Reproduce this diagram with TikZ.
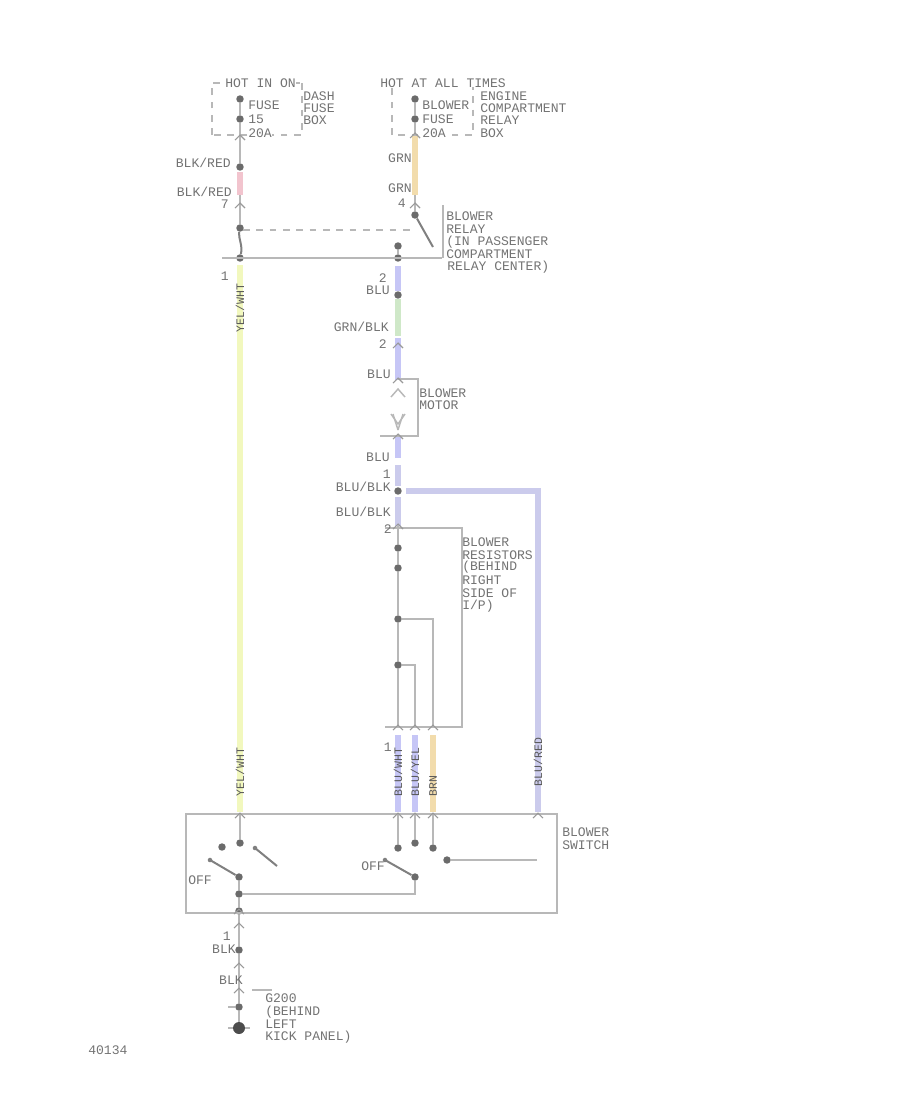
\documentclass[tikz,border=0pt]{standalone}
\usepackage{fontspec}
\setmonofont{Liberation Mono}
\definecolor{ink}{gray}{0.45}
\definecolor{ln}{gray}{0.72}
\definecolor{wblue}{HTML}{C6C6F6}
\definecolor{wblue2}{HTML}{CBCBEC}
\definecolor{wyel}{HTML}{F2F8BE}
\definecolor{worange}{HTML}{F2DCAC}
\definecolor{wgreen}{HTML}{CFE8C8}
\definecolor{wred}{HTML}{F2C4CE}
\tikzset{
  lbl/.style={font=\ttfamily\fontsize{9.8}{12}\selectfont,text=ink,inner sep=0pt,anchor=west,align=left},
  lblr/.style={lbl,anchor=east},
  vlbl/.style={font=\ttfamily\fontsize{8.6}{9}\selectfont,text=black!65,inner sep=0pt,rotate=90},
  dot/.style={circle,fill=black!58,draw=none,inner sep=0pt,minimum size=5.6pt},
  bigdot/.style={circle,fill=black!70,inner sep=0pt,minimum size=9pt},
  term/.style={circle,fill=ln,inner sep=0pt,minimum size=3.4pt},
  wire/.style={draw=ln,line width=1.1pt},
  box/.style={draw=ln,line width=1.7pt},
  dbox/.style={draw=ln,line width=.9pt,dashed,dash pattern=on 5pt off 5pt},
  cw/.style={line width=4.2pt,line cap=butt},
  blade/.style={draw=black!50,line width=1.5pt}
}
\begin{document}
\begin{tikzpicture}[x=0.75pt,y=-0.75pt]
\useasboundingbox (0,0) rectangle (900,1100);
% ---- coordinates and points
\foreach \n/\x/\y in {
 la/240/99,lb/240/119,lc/240/167,ld/240/228,le/240/258,
 ra/415/99,rb/415/119,rc/415/215,
 pa/398/246,pb/398/258,pc/398/295,pd/398/491,
 ra1/398/548,ra2/398/568,ra3/398/619,ra4/398/665,
 sa/240/843,sb/222/847,sc/239/877,sd/239/894,se/239/911,
 sf/398/848,sg/415/843,sh/433/848,si/415/877,sj/447/860,
 ga/239/950,gb/239/1007}
 {\node[dot] (\n) at (\x,\y) {};}
\node[bigdot] (gnd) at (239,1028) {};
% ---- free ends
\foreach \n/\x/\y in {
 fa/212/83,fb/302/83,fc/302/135,fd/212/135,
 ea/392/83,eb/473/83,ec/473/135,ed/392/135,
 busl/222/258,busr/442/258,
 lt1/240/137,lt2/240/205,rt1/415/135,rt2/415/195,lred1/240/172,lred2/240/195,
 lm/240/146,rm/415/205,
 y1/240/265,y2/240/812,
 ba1/398/266,ba2/398/291,gr1/398/299,gr2/398/336,ba3/398/338,ba4/398/380,
 bb1/398/436,bb2/398/458,bb3/398/465,bb4/398/486,bb5/398/497,bb6/398/526,
 h1/538/491,h2/538/812,h0/406/491,
 mt1/418/379,mt2/418/436,mt3/380/436,mt0/398/379,
 rs1/385/528,rs2/462/528,rs3/462/727,rs4/385/727,
 r3a/433/619,r3b/433/727,r4a/415/665,r4b/415/727,
 w1a/398/735,w1b/398/812,w2a/415/735,w2b/415/812,w3a/433/735,w3b/433/812,
 sw1/186/814,sw2/557/913,
 t1/240/815,t2/398/815,t3/415/815,t4/433/815,t5/538/815,
 bl1a/255/848,bl1b/277/866,bl2a/210/860,bl3a/385/860,arrowend/537/860,
 g1/239/965,g2/239/990,
 sv1/443/205,sv2/443/258,dash1/243/230,dash2/415/230,bladeend/433/247,
 g3/228/1007,g4/228/1028,g5/250/1028,g6/252/990,g7/272/990}
 {\coordinate (\n) at (\x,\y);}
% ---- coloured wires
\draw[wred,cw] (lred1) -- (lred2);
\draw[worange,cw] (rt1) -- (rt2);
\draw[wyel,cw] (y1) -- (y2);
\draw[wblue,cw] (ba1) -- (ba2);
\draw[wgreen,cw] (gr1) -- (gr2);
\draw[wblue,cw] (ba3) -- (ba4);
\draw[wblue,cw] (bb1) -- (bb2);
\draw[wblue2,cw] (bb3) -- (bb4);
\draw[wblue2,cw] (bb5) -- (bb6);
\draw[wblue2,cw,line join=miter] (h0) -- (h1) -- (h2);
\draw[wblue,cw] (w1a) -- (w1b);
\draw[wblue,cw] (w2a) -- (w2b);
\draw[worange,cw] (w3a) -- (w3b);
% ---- fuse boxes
\draw[dbox] (fd) -- (fa) -- (fb);
\draw[dbox] (fb) -- (fc) -- (fd);
\draw[dbox] (ed) -- (ea);
\draw[dbox] (eb) -- (ec) -- (ed);
% ---- black wires
\draw[wire] (la) -- (lb) -- (lt1) -- (lm);
\draw[wire] (ra) -- (rb) -- (rt1);
\draw[wire] (lm) -- (lc);
\draw[wire] (lred2) -- (lt2) -- (ld);
\draw[blade] (ld) .. controls (238,238) and (243,245) .. (le);
\draw[wire] (rt2) -- (rm) -- (rc);
\draw[blade] (rc) -- (bladeend);
\draw[dbox] (dash1) -- (dash2);
\draw[wire] (pa) -- (pb);
\draw[box] (busl) -- (busr);
\draw[wire] (sv1) -- (sv2);
% motor
\draw[wire] (mt0) -- (mt1) -- (mt2) -- (mt3);
\draw[wire] (391,397) -- (398,389) -- (405,397);
\draw[wire] (391,414) -- (398,424) -- (405,414);
\draw[wire] (393,414) -- (398,430);
\draw[wire] (403,414) -- (398,430);
% resistors
\draw[wire] (rs1) -- (rs2) -- (rs3) -- (rs4);
\draw[wire] (bb6) -- (ra1) -- (ra2) -- (ra3) -- (ra4) -- (398,727);
\draw[wire] (ra3) -- (r3a) -- (r3b);
\draw[wire] (ra4) -- (r4a) -- (r4b);
% ---- switch box
\draw[box] (sw1) rectangle (sw2);
\draw[wire] (t1) -- (sa);
\draw[wire] (t2) -- (sf);
\draw[wire] (t3) -- (sg);
\draw[wire] (t4) -- (sh);
\draw[blade] (bl1a) -- (bl1b);
\draw[blade] (bl2a) -- (sc);
\draw[blade] (bl3a) -- (si);
\draw[wire] (sc) -- (sd) -- (se) -- (ga);
\draw[wire] (sd) -- (415,894) -- (si);
\draw[wire] (sj) -- (arrowend);
\draw[wire] (ga) -- (g1) -- (g2) -- (gb) -- (gnd);
\draw[wire] (g3) -- (gb);
\draw[wire] (g4) -- (gnd);
\draw[wire] (gnd) -- (g5);
\draw[wire] (g6) -- (g7);
\foreach \n in {bl1a,bl2a,bl3a} \node[term,fill=black!50] at (\n) {};
% small connector marks
\foreach \x/\y in {240/137,240/205,415/135,415/205,398/345,398/380,398/436,398/526,398/727,415/727,433/727,240/815,398/815,415/815,433/815,538/815,239/911,239/925,239/965,239/990}
 \draw[black!40,line width=.8pt] (\x-5,\y+3) -- (\x,\y-2) -- (\x+5,\y+3);
% ---- texts
\node[lbl,fill=white] (t01) at (225,83) {HOT IN ON};
\node[lbl,fill=white] (t02) at (380,83) {HOT AT ALL TIMES};
\node[lbl] (t03) at (248,105) {FUSE};
\node[lbl] (t04) at (248,119) {15};
\node[lbl,fill=white] (t05) at (248,133) {20A};
\node[lbl] (t06) at (303,96) {DASH};
\node[lbl] (t07) at (303,108) {FUSE};
\node[lbl] (t08) at (303,120) {BOX};
\node[lbl] (t09) at (422,105) {BLOWER};
\node[lbl] (t10) at (422,119) {FUSE};
\node[lbl,fill=white] (t11) at (422,133) {20A};
\node[lbl] (t12) at (480,96) {ENGINE};
\node[lbl] (t13) at (480,108) {COMPARTMENT};
\node[lbl] (t14) at (480,120) {RELAY};
\node[lbl] (t15) at (480,133) {BOX};
\node[lblr] (t16) at (231,163) {BLK/RED};
\node[lblr] (t17) at (232,192) {BLK/RED};
\node[lblr] (t18) at (229,204) {7};
\node[lblr] (t19) at (412,158) {GRN};
\node[lblr] (t20) at (412,188) {GRN};
\node[lblr] (t21) at (406,203) {4};
\node[lbl] (t22) at (446,216) {BLOWER};
\node[lbl] (t23) at (446,229) {RELAY};
\node[lbl] (t24) at (446,242) {(IN PASSENGER};
\node[lbl] (t25) at (446,254) {COMPARTMENT};
\node[lbl] (t26) at (447,267) {RELAY CENTER)};
\node[lblr] (t27) at (229,276) {1};
\node[lblr] (t28) at (387,278) {2};
\node[lblr] (t29) at (390,290) {BLU};
\node[lblr] (t30) at (389,327) {GRN/BLK};
\node[lblr] (t31) at (387,344) {2};
\node[lblr] (t32) at (391,374) {BLU};
\node[lbl] (t33) at (419,393) {BLOWER};
\node[lbl] (t34) at (419,405) {MOTOR};
\node[lblr] (t35) at (390,457) {BLU};
\node[lblr] (t36) at (391,474) {1};
\node[lblr] (t37) at (391,487) {BLU/BLK};
\node[lblr] (t38) at (391,512) {BLU/BLK};
\node[lblr] (t39) at (392,529) {2};
\node[lbl] (t40) at (462,542) {BLOWER};
\node[lbl] (t41) at (462,555) {RESISTORS};
\node[lbl] (t42) at (462,567) {(BEHIND};
\node[lbl] (t43) at (462,580) {RIGHT};
\node[lbl] (t44) at (462,593) {SIDE OF};
\node[lbl] (t45) at (462,606) {I/P)};
\node[lblr] (t46) at (392,747) {1};
\node[lbl] (t47) at (562,832) {BLOWER};
\node[lbl] (t48) at (562,845) {SWITCH};
\node[lbl] (t49) at (188,880) {OFF};
\node[lbl] (t50) at (361,866) {OFF};
\node[lblr] (t51) at (231,936) {1};
\node[lblr] (t52) at (236,949) {BLK};
\node[lblr] (t53) at (243,980) {BLK};
\node[lbl] (t54) at (265,998) {G200};
\node[lbl] (t55) at (265,1012) {(BEHIND};
\node[lbl] (t56) at (265,1024) {LEFT};
\node[lbl] (t57) at (265,1037) {KICK PANEL)};
\node[lbl] (t58) at (88,1050) {40134};
% wire codes
\node[vlbl] (v1) at (240,308) {YEL/WHT};
\node[vlbl] (v2) at (240,772) {YEL/WHT};
\node[vlbl] (v3) at (398,772) {BLU/WHT};
\node[vlbl] (v4) at (415,772) {BLU/YEL};
\node[vlbl] (v5) at (433,786) {BRN};
\node[vlbl] (v6) at (538,762) {BLU/RED};
\end{tikzpicture}
\end{document}
